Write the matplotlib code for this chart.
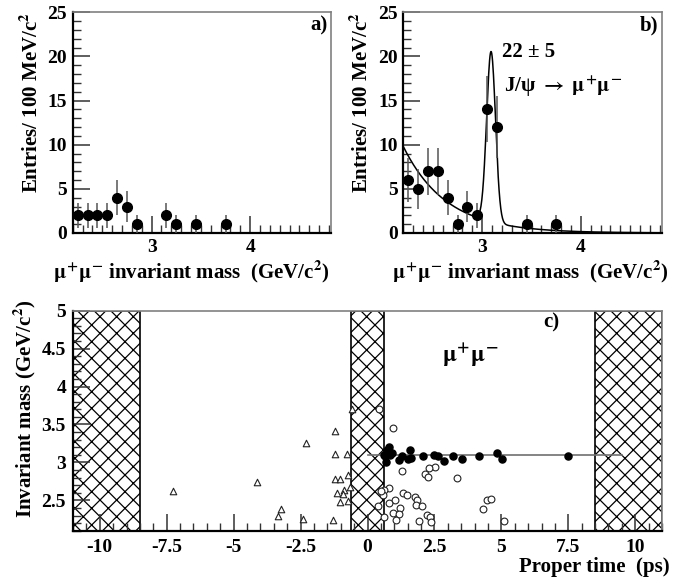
"""Dimuon mass spectra and proper-time vs mass scatter (three panels)."""
import numpy as np
import matplotlib
matplotlib.use("Agg")
import matplotlib.pyplot as plt
from matplotlib.ticker import MultipleLocator, FuncFormatter

# ---- data -------------------------------------------------------------
# panel a) -- mass histogram, 100 MeV bins (bin centres, entries)
mass_a = [2.25, 2.35, 2.45, 2.55, 2.65, 2.75, 2.85, 3.15, 3.25, 3.45, 3.75]
entries_a = [2, 2, 2, 2, 4, 3, 1, 2, 1, 1, 1]

# panel b)
mass_b = [2.25, 2.35, 2.45, 2.55, 2.65, 2.75, 2.85, 2.95, 3.05, 3.15, 3.45, 3.75]
entries_b = [6, 5, 7, 7, 4, 1, 3, 2, 14, 12, 1, 1]

# fit in panel b): exponential background + gaussian J/psi peak
bkg_norm, bkg_slope, bkg_x0 = 9.8, 2.3, 2.2
peak_amp, peak_mean, peak_sigma = 19.3, 3.09, 0.045

# panel c) -- proper time (ps) vs invariant mass (GeV/c^2)
tri_t = [-7.27, -4.11, -3.22, -3.35, -2.42, -2.28, -1.29, -1.20, -1.23, -0.77,
         -0.59, -1.20, -1.04, -0.72, -1.14, -0.87, -0.91, -1.01, -0.71, -0.67]
tri_m = [2.62, 2.74, 2.38, 2.30, 2.25, 3.26, 2.24, 3.42, 3.11, 3.11,
         3.70, 2.78, 2.78, 2.83, 2.60, 2.64, 2.59, 2.48, 2.49, 2.68]

dot_t = [0.60, 0.65, 0.73, 0.79, 0.85, 0.91, 0.69, 1.16, 1.29, 1.53, 1.57,
         1.63, 2.09, 2.47, 2.62, 2.84, 3.18, 3.52, 4.17, 4.83, 5.03, 7.50]
dot_m = [3.10, 3.08, 3.16, 3.20, 3.10, 3.12, 3.00, 3.03, 3.09, 3.05, 3.16,
         3.06, 3.09, 3.10, 3.08, 3.02, 3.08, 3.04, 3.08, 3.13, 3.05, 3.08]

circ_t = [0.44, 0.97, 2.53, 2.28, 1.29, 2.16, 2.26, 3.34, 0.79, 0.63, 0.58,
          1.32, 1.47, 1.78, 1.84, 1.04, 0.79, 1.81, 2.03, 1.20, 0.95, 1.16,
          2.22, 2.32, 0.60, 1.07, 1.91, 2.37, 4.46, 4.61, 4.31, 5.08, 0.40, 0.52]
circ_m = [3.71, 3.45, 2.94, 2.93, 2.89, 2.85, 2.81, 2.80, 2.66, 2.64, 2.57,
          2.60, 2.57, 2.55, 2.50, 2.51, 2.47, 2.44, 2.42, 2.40, 2.33, 2.32,
          2.31, 2.28, 2.28, 2.24, 2.23, 2.21, 2.51, 2.52, 2.38, 2.23, 2.43, 2.62]

jpsi_mass = 3.097
jpsi_line_t = (0.0, 9.5)
veto_regions = [(-11.0, -8.5), (-0.6, 0.6), (8.5, 11.0)]

# ---- style ------------------------------------------------------------
plt.rcParams["font.family"] = ["Liberation Serif", "DejaVu Serif"]
plt.rcParams["font.weight"] = "bold"
plt.rcParams["mathtext.fontset"] = "stix"
plt.rcParams["axes.unicode_minus"] = False
plt.rcParams["hatch.linewidth"] = 0.9

TICK_FS = 14
LABEL_FS = 15
fmt_g = FuncFormatter(lambda v, _: f"{v:g}")


def style_box(ax):
    ax.spines["left"].set_linewidth(1.6)
    ax.spines["bottom"].set_linewidth(1.6)
    for side in ("top", "right"):
        ax.spines[side].set_color("#808080")
        ax.spines[side].set_linewidth(1.2)
    ax.tick_params(which="both", direction="in", top=False, right=False,
                   color="#333333", labelsize=TICK_FS)


def mass_panel(ax, mass, entries, tag):
    mass = np.asarray(mass)
    entries = np.asarray(entries, dtype=float)
    ax.errorbar(mass, entries, yerr=np.sqrt(entries), fmt="o", color="black",
                ecolor="#555555", elinewidth=1.1, markersize=7, capsize=0, zorder=3)
    ax.set_xlim(2.2, 4.82)
    ax.set_ylim(0, 25)
    ax.xaxis.set_major_locator(MultipleLocator(1))
    ax.xaxis.set_minor_locator(MultipleLocator(0.1))
    ax.yaxis.set_major_locator(MultipleLocator(5))
    ax.yaxis.set_minor_locator(MultipleLocator(1))
    style_box(ax)
    ax.tick_params(axis="x", which="major", length=12, width=1.1, pad=4)
    ax.tick_params(axis="x", which="minor", length=6, width=1.0)
    ax.tick_params(axis="y", which="major", length=12, width=1.1, pad=4)
    ax.tick_params(axis="y", which="minor", length=6, width=1.0)
    ax.text(0.985, 0.94, tag, transform=ax.transAxes, ha="right", va="center",
            fontsize=15, fontweight="bold")
    ax.text(-0.16, 1.0, "Entries/ 100 MeV/c$^{\\mathbf{2}}$", transform=ax.transAxes,
            rotation=90, ha="center", va="top", fontsize=LABEL_FS, fontweight="bold")


fig = plt.figure(figsize=(6.81, 5.79), dpi=100)
ax_a = fig.add_axes([0.1068, 0.5976, 0.3793, 0.3812])
ax_b = fig.add_axes([0.5922, 0.5976, 0.3795, 0.3812])
ax_c = fig.add_axes([0.1072, 0.0834, 0.8649, 0.3800])

xlabel_mass = r"$\mathrm{\mu^{+}\mu^{-}}$ invariant mass  (GeV/c$^{\mathbf{2}}$)"

# panel a
mass_panel(ax_a, mass_a, entries_a, "a)")
ax_a.text(0.46, -0.175, xlabel_mass, transform=ax_a.transAxes, ha="center",
          va="center", fontsize=LABEL_FS)

# panel b
mass_panel(ax_b, mass_b, entries_b, "b)")
xs = np.linspace(2.2, 4.82, 600)
fit = (bkg_norm * np.exp(-bkg_slope * (xs - bkg_x0))
       + peak_amp * np.exp(-0.5 * ((xs - peak_mean) / peak_sigma) ** 2))
ax_b.plot(xs, fit, color="black", lw=1.1, zorder=2)
ax_b.text(0.493, -0.175, xlabel_mass, transform=ax_b.transAxes, ha="center",
          va="center", fontsize=LABEL_FS)
ax_b.text(3.47, 20.5, "22 ± 5", ha="center", va="center", fontsize=15, fontweight="bold")
ax_b.text(3.22, 16.6, r"J/ψ $\mathbf{\rightarrow}$ $\mathrm{\mu^{+}\mu^{-}}$", ha="left",
          va="center", fontsize=15, fontweight="bold")

# panel c
for lo, hi in veto_regions:
    ax_c.axvspan(lo, hi, facecolor="none", edgecolor="black", hatch="xx",
                 lw=1.2, zorder=1)
ax_c.plot(jpsi_line_t, [jpsi_mass, jpsi_mass], color="#707070", lw=1.2, zorder=2)
ax_c.scatter(tri_t, tri_m, marker="^", s=22, facecolors="white",
             edgecolors="#222222", linewidths=0.8, zorder=3)
ax_c.scatter(circ_t, circ_m, marker="o", s=24, facecolors="white",
             edgecolors="#222222", linewidths=0.8, zorder=3)
ax_c.scatter(dot_t, dot_m, marker="o", s=26, color="black", zorder=4)

ax_c.set_xlim(-11, 11)
ax_c.set_ylim(2.1, 5)
ax_c.xaxis.set_major_locator(MultipleLocator(2.5))
ax_c.xaxis.set_minor_locator(MultipleLocator(0.5))
ax_c.yaxis.set_major_locator(MultipleLocator(0.5))
ax_c.yaxis.set_minor_locator(MultipleLocator(0.1))
ax_c.xaxis.set_major_formatter(fmt_g)
ax_c.yaxis.set_major_formatter(fmt_g)
style_box(ax_c)
ax_c.tick_params(axis="x", which="major", length=12, width=1.1, pad=6)
ax_c.tick_params(axis="x", which="minor", length=6, width=1.0)
ax_c.tick_params(axis="y", which="major", length=12, width=1.1, pad=5)
ax_c.tick_params(axis="y", which="minor", length=6, width=1.0)

ax_c.text(0.812, 0.945, "c)", transform=ax_c.transAxes, ha="center", va="center",
          fontsize=15, fontweight="bold")
ax_c.text(3.85, 4.4, r"$\mathrm{\mu^{+}\mu^{-}}$", ha="center", va="center", fontsize=17)
ax_c.text(-0.082, 1.05, "Invariant mass (GeV/c$^{\\mathbf{2}}$)", transform=ax_c.transAxes,
          rotation=90, ha="center", va="top", fontsize=LABEL_FS, fontweight="bold")
ax_c.text(1.013, -0.164, "Proper time  (ps)", transform=ax_c.transAxes,
          ha="right", va="center", fontsize=LABEL_FS, fontweight="bold")

fig.savefig("out.png", dpi=100)
